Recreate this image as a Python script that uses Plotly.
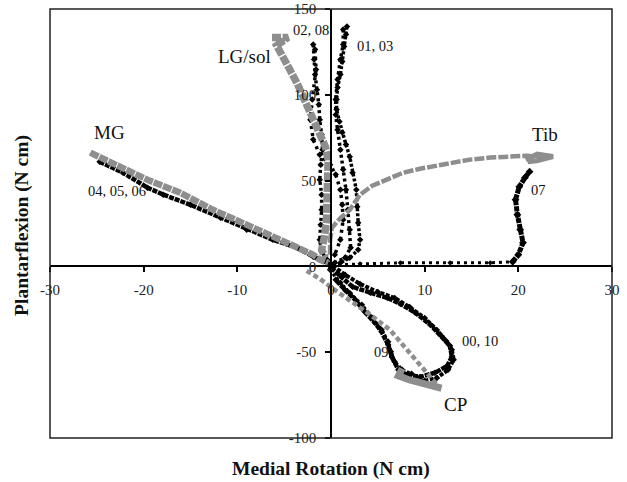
import plotly.graph_objects as go

# ---------------- data (N cm) ----------------
# gray: muscle moment arms
mg_gray_x = [-25.7, -25.0, -23.3, -19.6, -16.1, -12.6, -9.0, -5.4, -1.9, -1.2, -0.3]
mg_gray_y = [66.3, 64.5, 60.4, 50.5, 42.9, 33.0, 24.3, 15.5, 6.8, 3.9, 2.1]

lg_gray_x = [-6.3, -4.6, -5.8, -5.0, -4.4, -3.6, -3.0, -2.5, -1.9, -1.3, -0.6, -0.3, -0.3, -0.3, -0.4, -0.5, -0.7, -1.0, -0.6]
lg_gray_y = [133.4, 133.4, 128.7, 121.7, 114.7, 106.5, 98.9, 92.5, 85.5, 78.0, 69.8, 62.2, 53.4, 44.7, 34.8, 26.0, 17.3, 9.7, 5.0]

tib_gray_x = [-0.1, -0.1, 0.1, 1.0, 2.0, 3.1, 4.4, 6.3, 7.7, 9.5, 11.3, 13.2, 14.8, 17.0, 19.1, 20.9, 22.3, 23.7]
tib_gray_y = [6.8, 15.5, 22.5, 28.2, 32.9, 41.8, 47.0, 51.7, 54.6, 56.9, 58.7, 61.0, 62.2, 63.4, 63.9, 64.5, 63.9, 63.9]

tib_head_x = [20.8, 22.0, 23.7, 22.0, 21.0]
tib_head_y = [62.0, 65.5, 64.0, 61.5, 61.0]

cp_gray_x = [-2.6, -1.2, 0.4, 2.0, 4.2, 6.3, 8.1, 9.8, 10.9, 11.6]
cp_gray_y = [-2.6, -7.2, -13.7, -19.5, -28.2, -37.0, -48.6, -58.6, -66.2, -70.8]

cp_hook_x = [11.8, 10.0, 8.4, 7.2, 7.6]
cp_hook_y = [-71.0, -68.7, -66.2, -63.8, -59.5]

# black: recorded endpoint forces
b0405_x = [-24.7, -22.2, -19.6, -17.9, -15.0, -11.8, -9.0, -6.2, -3.6, -1.9, -0.4, 0.0]
b0405_y = [61.0, 54.6, 45.9, 41.8, 35.9, 28.4, 21.4, 15.5, 10.9, 5.6, 2.1, 0.9]

b01_x = [1.7, 1.6, 1.4, 1.2, 1.0, 0.7, 0.6, 0.6, 0.9, 1.2, 1.6, 2.0, 2.3, 2.7, 2.8, 2.9, 3.1, 2.9, 2.0, 1.0]
b01_y = [139.8, 135.1, 128.1, 119.4, 111.8, 104.2, 97.2, 91.4, 84.4, 78.0, 71.0, 63.9, 54.6, 44.7, 34.8, 25.4, 15.5, 9.7, 5.0, 2.1]

b03_x = [1.3, 1.3, 1.0, 0.7, 0.5, 0.5, 0.7, 1.0, 1.3, 1.6, 1.8, 2.0, 2.1, 1.5, 0.4]
b03_y = [138.0, 129.3, 120.5, 108.9, 97.2, 88.4, 79.7, 68.0, 56.4, 44.7, 33.0, 21.4, 10.9, 5.0, 2.1]

b02_x = [-1.9, -1.8, -1.7, -1.5, -1.3, -1.2, -1.0, -0.9, -1.1, -1.2, -1.0, -1.0, -1.1, -1.2, -1.0, -0.4]
b02_y = [129.3, 120.5, 111.8, 103.0, 94.3, 85.5, 76.8, 68.0, 59.3, 50.5, 41.8, 33.0, 24.3, 15.5, 8.5, 3.9]

b08_x = [-1.7, -1.6, -2.0, -2.2, -1.9, -1.2, -0.1, 0.5, 1.0, 1.2, 1.3, 1.0, 0.4]
b08_y = [126.4, 114.7, 97.2, 85.5, 73.9, 65.1, 59.3, 53.5, 44.7, 35.9, 27.2, 15.5, 6.8]

b07_x = [0.0, 3.1, 7.4, 12.7, 17.0, 19.4, 20.0, 20.5, 20.2, 19.9, 19.7, 20.1, 20.7, 21.2]
b07_y = [0.9, 1.5, 2.1, 2.1, 2.1, 2.7, 6.8, 13.8, 21.4, 30.1, 38.9, 46.4, 51.7, 55.2]

b00_x = [0.0, 1.0, 2.3, 4.2, 6.0, 7.4, 9.0, 10.6, 11.8, 12.7, 12.9, 12.4, 11.1, 9.5, 8.1, 7.2, 6.5, 6.1, 5.4, 4.7, 3.6, 2.6, 1.5, 0.5]
b00_y = [-0.8, -5.5, -11.9, -15.3, -18.3, -21.8, -27.0, -34.0, -40.5, -46.3, -52.8, -58.0, -62.0, -64.4, -63.2, -60.3, -52.8, -45.7, -38.1, -32.9, -26.5, -19.5, -13.7, -7.8]

b10_x = [0.2, 1.5, 3.1, 5.0, 6.8, 8.4, 10.0, 11.3, 12.3, 12.9, 13.1, 12.5, 11.3, 10.0, 8.6, 7.7]
b10_y = [0.4, -4.9, -10.2, -14.9, -18.4, -23.7, -30.1, -37.0, -43.5, -48.6, -54.4, -60.3, -65.0, -66.7, -66.2, -65.0]

b09_x = [-0.1, 1.0, 2.0, 3.3, 4.4, 5.4, 6.1, 6.4, 6.8, 7.6, 8.6]
b09_y = [-2.0, -9.6, -15.5, -22.4, -30.0, -36.9, -43.9, -49.8, -55.6, -60.3, -62.6]

x_ticks = [-30, -20, -10, 0, 10, 20, 30]
y_ticks = [-100, -50, 0, 50, 100, 150]

# ---------------- figure ----------------
GRAY = "#8e8e8e"
FONT = "Liberation Serif"

fig = go.Figure()


def black(xs, ys, width=3, dash="3px,1.5px", msize=4):
    fig.add_trace(go.Scatter(
        x=xs, y=ys, mode="lines+markers",
        line=dict(color="black", width=width, dash=dash),
        marker=dict(color="black", size=msize, symbol="diamond"),
        hoverinfo="skip", showlegend=False))


def gray(xs, ys, width=6, dash="6px,2px"):
    fig.add_trace(go.Scatter(
        x=xs, y=ys, mode="lines",
        line=dict(color=GRAY, width=width, dash=dash),
        hoverinfo="skip", showlegend=False))


black(b0405_x, b0405_y, width=4.5, dash="5px,1px", msize=5)
black(b01_x, b01_y, width=3.5, dash="3px,2px", msize=5)
black(b03_x, b03_y, width=3.5, dash="3px,3px", msize=5)
black(b02_x, b02_y, width=3.5, dash="3px,3px", msize=5)
black(b08_x, b08_y, width=3.5, dash="3px,4px", msize=5)
black(b07_x[:6], b07_y[:6], width=3, dash="3px,4px", msize=4)
black(b07_x[5:], b07_y[5:], width=5, dash="5px,1px", msize=6)
black(b00_x, b00_y, width=4.5, dash="5px,1px", msize=5)
black(b10_x, b10_y, width=4, dash="4px,1.5px", msize=5)
black(b09_x, b09_y, width=3.5, dash="3px,2px", msize=5)

gray(mg_gray_x, mg_gray_y, width=6.5, dash="9px,1px")
gray(lg_gray_x, lg_gray_y, width=7.5, dash="9px,1.5px")
gray(tib_gray_x, tib_gray_y, width=4.5, dash="10px,2px")
gray(tib_head_x, tib_head_y, width=5, dash="solid")
gray(cp_gray_x, cp_gray_y, width=4.5, dash="5px,3px")
gray(cp_hook_x, cp_hook_y, width=7, dash="solid")

labels = [
    ("MG", -23.7, 77.9, 19), ("LG/sol", -9.2, 122.3, 19), ("Tib", 22.8, 76.7, 19),
    ("CP", 13.3, -80.7, 19), ("02, 08", -2.1, 138.0, 14.5), ("01, 03", 4.7, 128.7, 14.5),
    ("04, 05, 06", -22.8, 44.1, 14.5), ("07", 22.1, 44.7, 14.5), ("00, 10", 15.9, -43.4, 14.5),
    ("09", 5.4, -49.8, 14.5),
]
annotations = [dict(text=t, x=x, y=y, xref="x", yref="y", showarrow=False,
                    xanchor="center", yanchor="middle",
                    font=dict(family=FONT, size=s, color="#111")) for t, x, y, s in labels]
annotations.append(dict(text="<b>Medial Rotation (N cm)</b>", x=0.5, y=-0.072, xref="paper", yref="paper",
                        xanchor="center", yanchor="middle",
                        showarrow=False, font=dict(family=FONT, size=19.5, color="#111")))
annotations.append(dict(text="<b>Plantarflexion (N cm)</b>", x=-0.05, y=0.4965, xref="paper", yref="paper",
                        xanchor="center", yanchor="middle",
                        showarrow=False, textangle=-90, font=dict(family=FONT, size=19.5, color="#111")))

fig.update_layout(
    width=627, height=482,
    margin=dict(l=50, r=15, t=9, b=44),
    paper_bgcolor="white", plot_bgcolor="white",
    xaxis=dict(range=[-30, 30], anchor="free", position=0.4, showline=True, linecolor="black",
               linewidth=1.5, ticks="outside", ticklen=5, tickwidth=1.5, tickcolor="black",
               tickvals=x_ticks, ticktext=[str(v) for v in x_ticks], showgrid=False, zeroline=False,
               automargin=False,
               tickfont=dict(family=FONT, size=15, color="#222"), ticklabelstandoff=5),
    yaxis=dict(range=[-100, 150], anchor="free", position=0.5, showline=True, linecolor="black",
               linewidth=1.5, ticks="outside", ticklen=5, tickwidth=1.5, tickcolor="black",
               tickvals=y_ticks, ticktext=[str(v) for v in y_ticks], showgrid=False, zeroline=False,
               automargin=False,
               tickfont=dict(family=FONT, size=15, color="#222"), ticklabelstandoff=6),
    shapes=[dict(type="rect", xref="paper", yref="paper", x0=0, x1=1, y0=0, y1=1,
                 line=dict(color="#222", width=1.5), layer="above")],
    annotations=annotations,
)

fig.write_html("out.html", config={"displayModeBar": False},
               post_script="document.body.style.margin='0';")
